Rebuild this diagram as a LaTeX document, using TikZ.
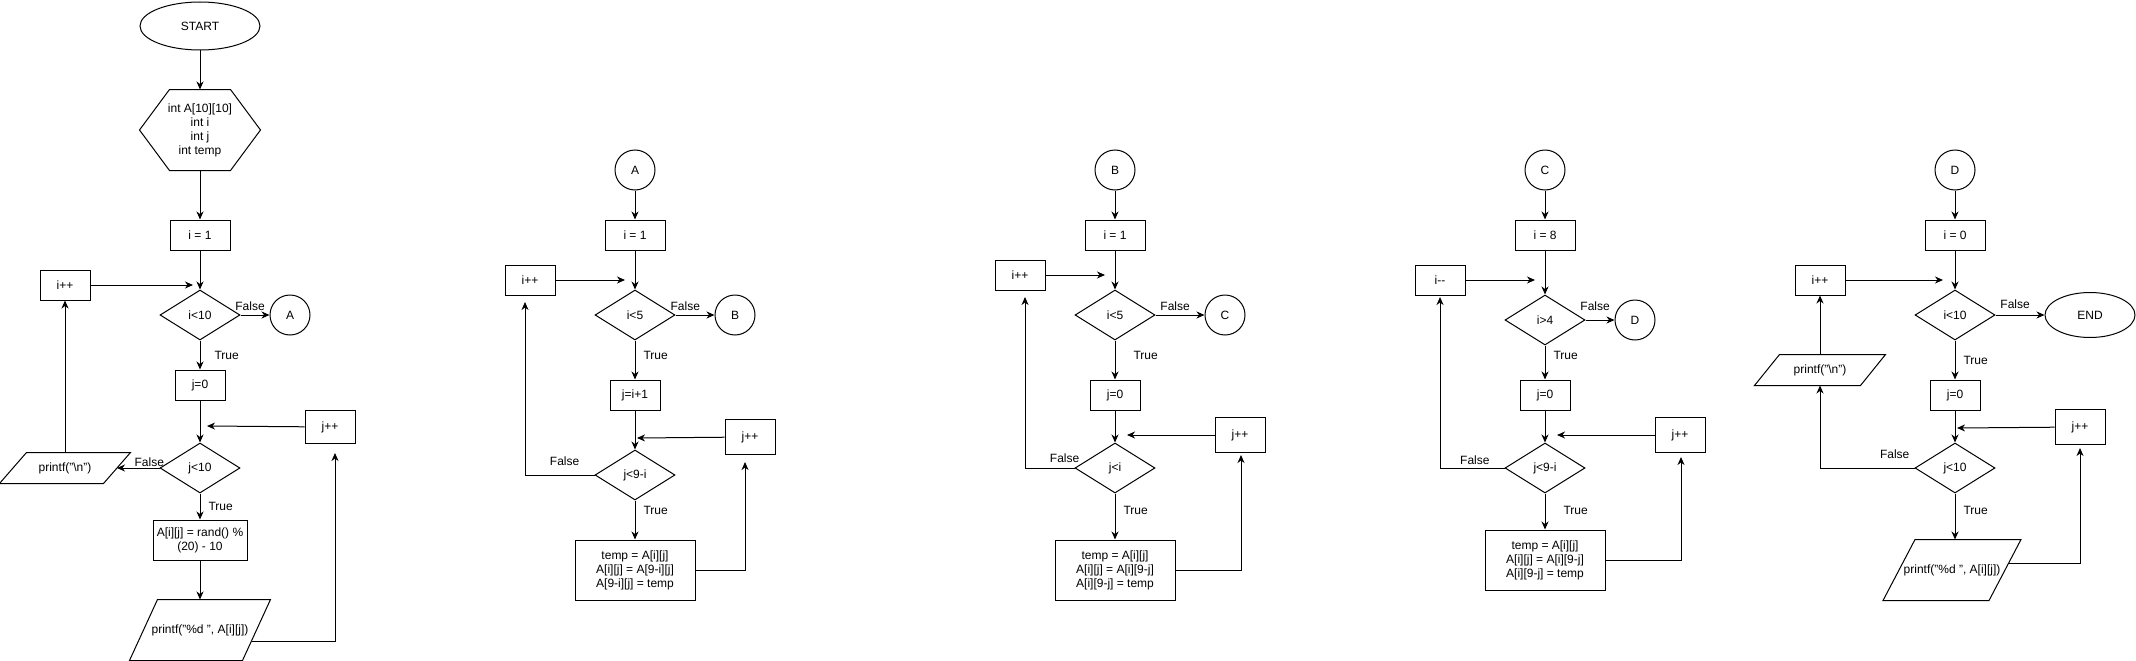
\documentclass[tikz,border=0pt]{standalone}
\usepackage{fontspec}
\setmainfont{Liberation Sans}
\usetikzlibrary{shapes.geometric,arrows.meta,positioning}

\begin{document}
\begin{tikzpicture}[
    x=1pt, y=-1pt,
    line width=1pt,
    font=\fontsize{12pt}{14pt}\selectfont,
    every node/.style={align=center, inner sep=2pt},
    terminal/.style={draw, ellipse, minimum width=#1, minimum height=46pt},
    process/.style={draw, rectangle, minimum width=50pt, minimum height=30pt},
    decision/.style={draw, diamond, minimum width=80pt, minimum height=50pt, inner sep=0pt},
    io/.style={rectangle, inner sep=0pt},
    connector/.style={draw, circle, minimum size=40pt, inner sep=0pt},
    lbl/.style={inner sep=1pt},
    flow/.style={draw, -{Stealth[length=8pt,width=7pt,inset=2.5pt]}}
]
\useasboundingbox (0,0) rectangle (2136,661);

% fill the matrix and print it
\node[terminal=120pt, minimum height=48pt] (start) at (200,26) {START};
\node[minimum width=120pt, minimum height=80pt] (vars) at (200,130) {int A[10][10]\\int i\\int j\\int temp};
\draw (vars.west) -- ([xshift=30pt]vars.north west) -- ([xshift=-30pt]vars.north east)
    -- (vars.east) -- ([xshift=-30pt]vars.south east) -- ([xshift=30pt]vars.south west) -- cycle;
\node[process, minimum width=60pt] (fill_i) at (200,235) {i = 1};
\node[decision] (fill_icond) at (200,315) {i<10};
\node[connector] (fill_out) at (290,315) {A};
\node[process] (fill_iinc) at (65,285) {i++};
\node[process] (fill_j) at (200,385) {j=0};
\node[decision] (fill_jcond) at (200,468) {j<10};
\node[io, minimum width=103pt, minimum height=30pt] (fill_nl) at (65,468) {printf("\textbackslash n")};
\draw ([xshift=13.5pt]fill_nl.north west) -- ([xshift=13.5pt]fill_nl.north east)
    -- ([xshift=-13.5pt]fill_nl.south east) -- ([xshift=-13.5pt]fill_nl.south west) -- cycle;
\node[process, minimum height=33pt] (fill_jinc) at (330,427) {j++};
\node[process, minimum width=94pt, minimum height=40pt] (fill_rand) at (200,540) {A[i][j] = rand() \%\\(20) - 10};
\node[io, minimum width=112pt, minimum height=60pt] (fill_print) at (200,630) {printf("\%d ", A[i][j])};
\draw ([xshift=14pt]fill_print.north west) -- ([xshift=14pt]fill_print.north east)
    -- ([xshift=-14pt]fill_print.south east) -- ([xshift=-14pt]fill_print.south west) -- cycle;
\coordinate (fill_m1) at (193,285);
\coordinate (fill_m2) at (207,426);
\coordinate (fill_up) at (335,453);

\draw[flow] (start) -- (vars);
\draw[flow] (vars) -- (fill_i);
\draw[flow] (fill_i) -- (fill_icond);
\draw[flow] (fill_icond) -- node[lbl, pos=0.33, above=3pt] {False} (fill_out);
\draw[flow] (fill_iinc) -- (fill_m1);
\draw[flow] (fill_icond) -- node[lbl, right=13pt] {True} (fill_j);
\draw[flow] (fill_j) -- (fill_jcond);
\draw[flow] (fill_jinc) -- (fill_m2);
\draw[flow] (fill_jcond) -- node[lbl, pos=0.24, above=0pt] {False} (fill_nl);
\draw[flow] (fill_nl) -- (fill_iinc);
\draw[flow] (fill_jcond) -- node[lbl, right=7pt] {True} (fill_rand);
\draw[flow] (fill_rand) -- (fill_print);
\draw[flow] ([shift={(-5pt,-11pt)}]fill_print.east) -| (fill_up);

% connector A
\node[connector] (a_in) at (635,170) {A};
\node[process, minimum width=60pt] (a_i) at (635,235) {i = 1};
\node[decision] (a_icond) at (635,315) {i<5};
\node[connector] (a_out) at (735,315) {B};
\node[process] (a_iinc) at (530,280) {i++};
\node[process] (a_j) at (635,395) {j=i+1};
\node[decision] (a_jcond) at (635,475) {j<9-i};
\node[process, minimum height=35pt] (a_jinc) at (750,437) {j++};
\node[process, minimum width=120pt, minimum height=60pt] (a_swap) at (635,570) {temp = A[i][j]\\A[i][j] = A[9-i][j]\\A[9-i][j] = temp};
\coordinate (a_m1) at (625,280);
\coordinate (a_m2) at (637,438);
\coordinate (a_back) at (525,475);
\coordinate (a_up) at (525,302);
\coordinate (a_turn) at (745,570);
\coordinate (a_up2) at (745,462);

\draw[flow] (a_in) -- (a_i);
\draw[flow] (a_i) -- (a_icond);
\draw[flow] (a_icond) -- node[lbl, pos=0.25, above=3pt] {False} (a_out);
\draw[flow] (a_iinc) -- (a_m1);
\draw[flow] (a_icond) -- node[lbl, pos=0.37, right=7pt] {True} (a_j);
\draw[flow] (a_j) -- (a_jcond);
\draw[flow] (a_jinc) -- (a_m2);
\draw[flow] (a_jcond) -- node[lbl, pos=0.43, above=8pt] {False} (a_back) -- (a_up);
\draw[flow] (a_jcond) -- node[lbl, pos=0.25, right=7pt] {True} (a_swap);
\draw[flow] (a_swap) -- (a_turn) -- (a_up2);

% connector B
\node[connector] (b_in) at (1115,170) {B};
\node[process, minimum width=60pt] (b_i) at (1115,235) {i = 1};
\node[decision] (b_icond) at (1115,315) {i<5};
\node[connector] (b_out) at (1225,315) {C};
\node[process] (b_iinc) at (1020,275) {i++};
\node[process] (b_j) at (1115,395) {j=0};
\node[decision] (b_jcond) at (1115,468) {j<i};
\node[process, minimum height=35pt] (b_jinc) at (1240,435) {j++};
\node[process, minimum width=120pt, minimum height=60pt] (b_swap) at (1115,570) {temp = A[i][j]\\A[i][j] = A[i][9-j]\\A[i][9-j] = temp};
\coordinate (b_m1) at (1105,275);
\coordinate (b_m2) at (1127,435);
\coordinate (b_back) at (1025,468);
\coordinate (b_up) at (1025,297);
\coordinate (b_turn) at (1241,570);
\coordinate (b_up2) at (1241,455);

\draw[flow] (b_in) -- (b_i);
\draw[flow] (b_i) -- (b_icond);
\draw[flow] (b_icond) -- node[lbl, pos=0.4, above=3pt] {False} (b_out);
\draw[flow] (b_iinc) -- (b_m1);
\draw[flow] (b_icond) -- node[lbl, pos=0.37, right=17pt] {True} (b_j);
\draw[flow] (b_j) -- (b_jcond);
\draw[flow] (b_jinc) -- (b_m2);
\draw[flow] (b_jcond) -- node[lbl, pos=0.2, above=4pt] {False} (b_back) -- (b_up);
\draw[flow] (b_jcond) -- node[lbl, pos=0.37, right=7pt] {True} (b_swap);
\draw[flow] (b_swap) -- (b_turn) -- (b_up2);

% connector C
\node[connector] (c_in) at (1545,170) {C};
\node[process, minimum width=60pt] (c_i) at (1545,235) {i = 8};
\node[decision] (c_icond) at (1545,320) {i>4};
\node[connector] (c_out) at (1635,320) {D};
\node[process] (c_idec) at (1440,280) {i-{}-};
\node[process] (c_j) at (1545,395) {j=0};
\node[decision] (c_jcond) at (1545,468) {j<9-i};
\node[process, minimum height=35pt] (c_jinc) at (1680,435) {j++};
\node[process, minimum width=120pt, minimum height=60pt] (c_swap) at (1545,560) {temp = A[i][j]\\A[i][j] = A[i][9-j]\\A[i][9-j] = temp};
\coordinate (c_m1) at (1535,280);
\coordinate (c_m2) at (1557,435);
\coordinate (c_back) at (1440,468);
\coordinate (c_up) at (1440,297);
\coordinate (c_turn) at (1681,560);
\coordinate (c_up2) at (1681,457);

\draw[flow] (c_in) -- (c_i);
\draw[flow] (c_i) -- (c_icond);
\draw[flow] (c_icond) -- node[lbl, pos=0.33, above=8pt] {False} (c_out);
\draw[flow] (c_idec) -- (c_m1);
\draw[flow] (c_icond) -- node[lbl, pos=0.29, right=7pt] {True} (c_j);
\draw[flow] (c_j) -- (c_jcond);
\draw[flow] (c_jinc) -- (c_m2);
\draw[flow] (c_jcond) -- node[lbl, pos=0.46, above=2pt] {False} (c_back) -- (c_up);
\draw[flow] (c_jcond) -- node[lbl, pos=0.47, right=17pt] {True} (c_swap);
\draw[flow] (c_swap) -- (c_turn) -- (c_up2);

% connector D
\node[connector] (d_in) at (1955,170) {D};
\node[process, minimum width=60pt] (d_i) at (1955,235) {i = 0};
\node[decision] (d_icond) at (1955,315) {i<10};
\node[terminal=90pt, minimum height=45pt] (end) at (2090,315) {END};
\node[process] (d_iinc) at (1820,280) {i++};
\node[io, minimum width=105pt, minimum height=30pt] (d_nl) at (1820,370) {printf("\textbackslash n")};
\draw ([xshift=12.5pt]d_nl.north west) -- ([xshift=12.5pt]d_nl.north east)
    -- ([xshift=-12.5pt]d_nl.south east) -- ([xshift=-12.5pt]d_nl.south west) -- cycle;
\node[process] (d_j) at (1955,395) {j=0};
\node[process, minimum height=35pt] (d_jinc) at (2080,427) {j++};
\node[decision] (d_jcond) at (1955,468) {j<10};
\node[io, minimum width=105pt, minimum height=60pt] (d_print) at (1952,570) {printf("\%d ", A[i][j])};
\draw ([xshift=16pt]d_print.north west) -- ([xshift=16pt]d_print.north east)
    -- ([xshift=-16pt]d_print.south east) -- ([xshift=-16pt]d_print.south west) -- cycle;
\coordinate (d_m1) at (1943,280);
\coordinate (d_m2) at (1957,428);
\coordinate (d_back) at (1820,468);
\coordinate (d_turn) at (2080,563);
\coordinate (d_up) at (2080,448);

\draw[flow] (d_in) -- (d_i);
\draw[flow] (d_i) -- (d_icond);
\draw[flow] (d_icond) -- node[lbl, pos=0.4, above=5pt] {False} (end);
\draw[flow] (d_iinc) -- (d_m1);
\draw[flow] (d_nl) -- (d_iinc);
\draw[flow] (d_icond) -- node[lbl, right=7pt] {True} (d_j);
\draw[flow] (d_jinc) -- (d_m2);
\draw[flow] (d_j) -- (d_jcond);
\draw[flow] (d_jcond) -- node[lbl, pos=0.21, above=8pt] {False} (d_back) -- (d_nl);
\draw[flow] (d_jcond) -- node[lbl, pos=0.37, right=7pt] {True} (d_jcond |- d_print.north);
\draw[flow] ([shift={(4pt,7pt)}]d_print.east) -- (d_turn) -- (d_up);
\end{tikzpicture}
\end{document}
